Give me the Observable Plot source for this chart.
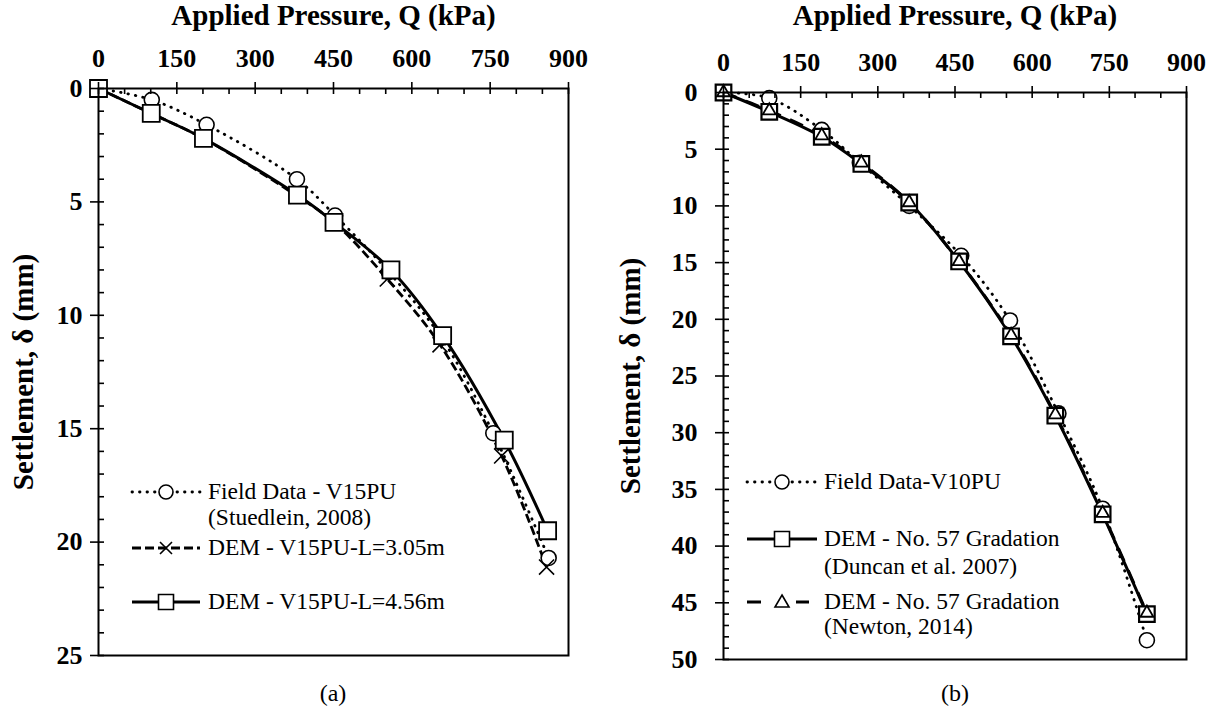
<!DOCTYPE html>
<html><head><meta charset="utf-8">
<script src="https://cdn.jsdelivr.net/npm/d3@7"></script>
<script src="https://cdn.jsdelivr.net/npm/@observablehq/plot@0.6"></script>
<style>
body{margin:0;background:#fff;}
#wrap{position:relative;width:1215px;height:711px;font-family:"Liberation Serif","Times New Roman",serif;color:#000;overflow:hidden;background:#fff}
.panel{position:absolute;top:0}
.leg{position:absolute;font-size:23.5px;line-height:1;white-space:nowrap;transform:translateY(-50%)}
.legsym{position:absolute;overflow:visible}
.cap{position:absolute;font-size:24px;transform:translate(-50%,-50%);white-space:nowrap}
</style></head><body><div id="wrap"></div>
<script>
// ---------- data (a) ----------
const qA_field = [0, 102, 207, 380, 453, 556, 657, 756, 862];
const dA_field = [0, 0.5, 1.6, 4.0, 5.6, 8.1, 11.0, 15.2, 20.7];
const qA_L305 = [0, 101, 201, 381, 451, 553, 654, 772, 858];
const dA_L305 = [0, 1.1, 2.2, 4.75, 5.9, 8.4, 11.3, 16.2, 21.1];
const qA_L456 = [0, 101, 201, 381, 451, 560, 659, 777, 860];
const dA_L456 = [0, 1.1, 2.2, 4.7, 5.9, 8.0, 10.9, 15.5, 19.5];
// ---------- data (b) ----------
const qB_field = [0, 89, 191, 265, 361, 462, 557, 651, 737, 823];
const dB_field = [0, 0.5, 3.3, 6.2, 10.0, 14.4, 20.1, 28.3, 36.7, 48.3];
const qB_duncan = [0, 89, 191, 268, 361, 458, 559, 645, 737, 823];
const dB_duncan = [0, 1.7, 3.9, 6.3, 9.7, 14.9, 21.5, 28.5, 37.2, 46.0];
const qB_newton = [0, 89, 191, 268, 361, 458, 559, 645, 737, 823];
const dB_newton = [0, 1.6, 3.8, 6.2, 9.7, 14.9, 21.4, 28.4, 37.1, 45.9];
// ---------- ticks & labels ----------
const xTicks = [0, 150, 300, 450, 600, 750, 900];
const xMinorTicks = [50, 100, 200, 250, 350, 400, 500, 550, 650, 700, 800, 850];
const yTicksA = [0, 5, 10, 15, 20, 25];
const yTicksB = [0, 5, 10, 15, 20, 25, 30, 35, 40, 45, 50];
const xTitle = "Applied Pressure, Q (kPa)";
const yTitle = "Settlement, δ (mm)";
const legendA = ["Field Data - V15PU", "(Stuedlein, 2008)", "DEM - V15PU-L=3.05m", "DEM - V15PU-L=4.56m"];
const legendB = ["Field Data-V10PU", "DEM - No. 57 Gradation", "(Duncan et al. 2007)", "DEM - No. 57 Gradation", "(Newton, 2014)"];
const captions = ["(a)", "(b)"];

const zip = (q, d) => q.map((v, i) => ({q: v, d: d[i]}));
const FONT = '"Liberation Serif","Times New Roman",serif';
const wrap = document.getElementById("wrap");

const DOT = {dash: "0.5 7", cap: "round", sw: 2.8};
const DASH = {dash: "9 4", cap: "butt", sw: 2.8};
const SOLID = {dash: null, cap: "butt", sw: 3};
const LDASH = {dash: "14 10", cap: "butt", sw: 3};

function makePanel(cfg) {
  const {W, H, ml, mr, mt, mb, yMax, yTicks, series, tickPadY, tickPadX, labOffX, labOffY} = cfg;
  const yMinor = d3.range(0, yMax + 1).filter(v => !yTicks.includes(v));
  const marks = [];
  for (const s of series) {
    marks.push(Plot.line(s.data, {x: "q", y: "d", curve: "catmull-rom", stroke: "#000",
      strokeWidth: s.line.sw, strokeDasharray: s.line.dash, strokeLinecap: s.line.cap}));
  }
  for (const s of series) {
    marks.push(Plot.dot(s.data, {x: "q", y: "d", symbol: s.symbol, r: s.r,
      fill: s.symbol === "times" ? "none" : "#fff", stroke: "#000", strokeWidth: s.msw}));
  }
  marks.push(
    Plot.frame({stroke: "#000", strokeWidth: 2}),
    Plot.axisX(xMinorTicks, {anchor: "top", tickSize: -5, tickFormat: () => "", strokeWidth: 1.6, label: null}),
    Plot.axisX(xTicks, {anchor: "top", tickSize: -5, tickFormat: () => "", strokeWidth: 1.6, label: null}),
    Plot.axisX(xTicks, {anchor: "top", tickSize: 7, tickPadding: tickPadX, fontSize: 26, fontWeight: "bold", strokeWidth: 1.6, label: null}),
    Plot.axisX([], {anchor: "top", label: xTitle, labelAnchor: "center", labelArrow: "none", labelOffset: labOffX, fontSize: 29, fontWeight: "bold"}),
    Plot.axisY(yMinor, {anchor: "left", tickSize: -6, tickFormat: () => "", strokeWidth: 1.6, label: null}),
    Plot.axisY(yTicks, {anchor: "left", tickSize: -6, tickFormat: () => "", strokeWidth: 1.6, label: null}),
    Plot.axisY(yTicks, {anchor: "left", tickSize: 8, tickPadding: tickPadY, fontSize: 26, fontWeight: "bold", strokeWidth: 1.6, label: null}),
    Plot.axisY([], {anchor: "left", label: yTitle, labelAnchor: "center", labelArrow: "none", labelOffset: labOffY, fontSize: 29, fontWeight: "bold"})
  );
  return Plot.plot({
    width: W, height: H, marginLeft: ml, marginRight: mr, marginTop: mt, marginBottom: mb,
    style: {fontFamily: FONT, color: "#000", background: "transparent", overflow: "visible"},
    x: {domain: [0, 900]},
    y: {domain: [0, yMax], reverse: true},
    marks
  });
}

const pA = makePanel({
  W: 607, H: 711, ml: 98, mr: 39, mt: 88, mb: 56, yMax: 25, yTicks: yTicksA,
  tickPadX: 15, tickPadY: 8, labOffX: 84, labOffY: 86,
  series: [
    {data: zip(qA_field, dA_field), line: DOT, symbol: "circle", r: 7.5, msw: 1.6},
    {data: zip(qA_L305, dA_L305), line: DASH, symbol: "times", r: 6.9, msw: 1.6},
    {data: zip(qA_L456, dA_L456), line: SOLID, symbol: "square", r: 9.6, msw: 1.8}
  ]
});
pA.classList.add("panel"); pA.style.left = "0px";
wrap.appendChild(pA);

const pB = makePanel({
  W: 608, H: 711, ml: 116, mr: 29, mt: 92, mb: 52, yMax: 50, yTicks: yTicksB,
  tickPadX: 15, tickPadY: 18, labOffX: 88, labOffY: 104,
  series: [
    {data: zip(qB_field, dB_field), line: DOT, symbol: "circle", r: 7.5, msw: 1.6},
    {data: zip(qB_duncan, dB_duncan), line: SOLID, symbol: "square", r: 8.8, msw: 2.2},
    {data: zip(qB_newton, dB_newton), line: LDASH, symbol: "triangle", r: 4.8, msw: 1.8}
  ]
});
pB.classList.add("panel"); pB.style.left = "607px";
wrap.appendChild(pB);

// ---------- legends (HTML) ----------
const NS = "http://www.w3.org/2000/svg";
function legendSample(x0, x1, y, line, symbol) {
  const svg = document.createElementNS(NS, "svg");
  svg.setAttribute("class", "legsym");
  svg.setAttribute("width", 1215); svg.setAttribute("height", 711);
  svg.style.left = "0px"; svg.style.top = "0px";
  const l = document.createElementNS(NS, "line");
  l.setAttribute("x1", x0); l.setAttribute("x2", x1); l.setAttribute("y1", y); l.setAttribute("y2", y);
  l.setAttribute("stroke", "#000"); l.setAttribute("stroke-width", line.sw);
  if (line.dash) l.setAttribute("stroke-dasharray", line.dash);
  l.setAttribute("stroke-linecap", line.cap);
  svg.appendChild(l);
  const cx = (x0 + x1) / 2;
  const p = document.createElementNS(NS, "path");
  let dpath = "";
  if (symbol === "circle") dpath = `M${cx - 7},${y}a7,7 0 1,0 14,0a7,7 0 1,0 -14,0`;
  if (symbol === "square") dpath = `M${cx - 7.5},${y - 7.5}h15v15h-15z`;
  if (symbol === "times") dpath = `M${cx - 6},${y - 6}L${cx + 6},${y + 6}M${cx - 6},${y + 6}L${cx + 6},${y - 6}`;
  if (symbol === "triangle") dpath = `M${cx},${y - 7}L${cx + 7},${y + 5}L${cx - 7},${y + 5}z`;
  p.setAttribute("d", dpath);
  p.setAttribute("fill", symbol === "times" ? "none" : "#fff");
  p.setAttribute("stroke", "#000"); p.setAttribute("stroke-width", 1.6);
  if (symbol === "triangle") {
    const bg = document.createElementNS(NS, "rect");
    bg.setAttribute("x", cx - 14); bg.setAttribute("y", y - 6); bg.setAttribute("width", 28); bg.setAttribute("height", 12); bg.setAttribute("fill", "#fff");
    svg.appendChild(bg);
  }
  svg.appendChild(p);
  wrap.appendChild(svg);
}
function legendText(x, y, txt) {
  const d = document.createElement("div");
  d.className = "leg"; d.style.left = x + "px"; d.style.top = y + "px"; d.textContent = txt;
  wrap.appendChild(d);
}
// panel (a)
legendSample(132, 200, 492, DOT, "circle");
legendText(208, 492, legendA[0]);
legendText(208, 518, legendA[1]);
legendSample(132, 200, 548, DASH, "times");
legendText(208, 548, legendA[2]);
legendSample(132, 200, 602, SOLID, "square");
legendText(208, 602, legendA[3]);
// panel (b)
legendSample(747, 817, 482, DOT, "circle");
legendText(824, 482, legendB[0]);
legendSample(747, 817, 539, SOLID, "square");
legendText(824, 539, legendB[1]);
legendText(824, 567, legendB[2]);
legendSample(747, 817, 602, LDASH, "triangle");
legendText(824, 602, legendB[3]);
legendText(824, 627, legendB[4]);

// captions
[[333, captions[0]], [955, captions[1]]].forEach(([x, t]) => {
  const c = document.createElement("div");
  c.className = "cap"; c.style.left = x + "px"; c.style.top = "693px"; c.textContent = t;
  wrap.appendChild(c);
});
</script></body></html>
